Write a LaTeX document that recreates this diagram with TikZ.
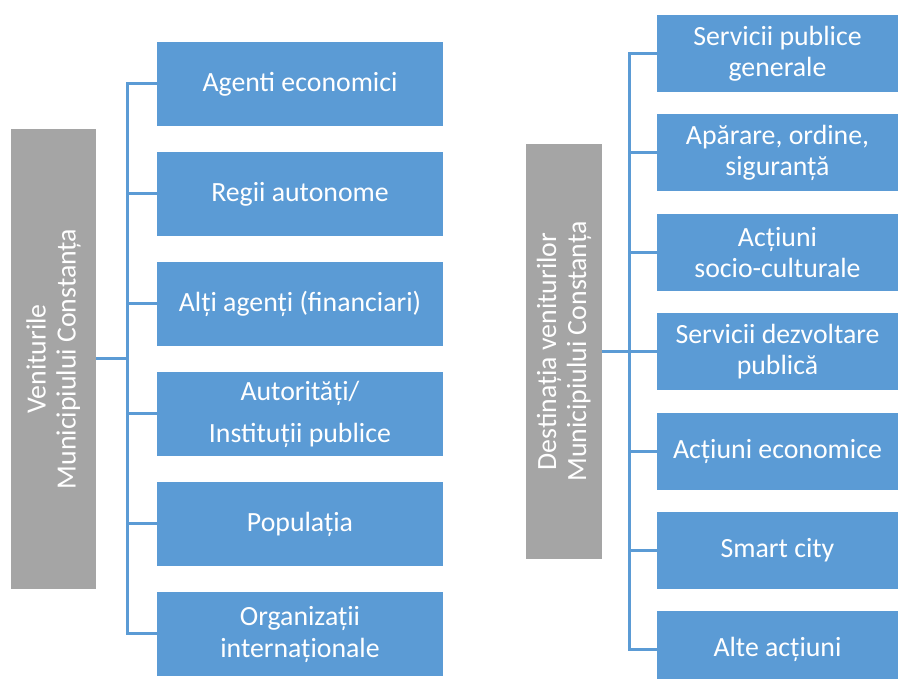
\documentclass[tikz,border=0pt]{standalone}
\usepackage{fontspec}
\setmainfont{Carlito}
\usepackage{xcolor}
\usetikzlibrary{positioning}

\definecolor{boxblue}{HTML}{5B9BD5}
\definecolor{boxgray}{HTML}{A5A5A5}

\begin{document}
\begin{tikzpicture}[
    x=1pt, y=1pt,
    headbox/.style={rectangle, fill=boxgray, text=white, rotate=90, align=center, font=\fontsize{27.8pt}{30pt}\selectfont},
    srcbox/.style={rectangle, fill=boxblue, text=white, minimum width=286pt, minimum height=84pt, align=center, font=\fontsize{27.8pt}{32pt}\selectfont},
    dstbox/.style={rectangle, fill=boxblue, text=white, minimum width=241pt, minimum height=77pt, align=center, font=\fontsize{27.8pt}{31pt}\selectfont},
    link/.style={draw=boxblue, line width=3pt}
]
\useasboundingbox (0,0) rectangle (903,679);

% left side: incomes
\node[headbox, minimum width=460pt, minimum height=85pt] (lhead) at (53.5,320) {Veniturile\\Municipiului Constanța};

\node[srcbox] (l1) at (300,595) {Agenti economici};
\node[srcbox, below=25.6pt of l1] (l2) {Regii autonome};
\node[srcbox, below=25.6pt of l2] (l3) {Alți agenți (financiari)};
\node[srcbox, below=25.6pt of l3] (l4) {Autorități/\\[10pt]Instituții publice};
\node[srcbox, below=25.6pt of l4] (l5) {Populația};
\node[srcbox, below=25.6pt of l5] (l6) {Organizații\\internaționale};

\coordinate (lfork) at (127,320);
\draw[link] (lhead.south) -- (lfork);
\foreach \i in {1,...,6}
    \draw[link] (lfork) |- (l\i.west);

% right side: destinations
\node[headbox, minimum width=415pt, minimum height=76pt] (rhead) at (564,327.5) {Destinația veniturilor\\Municipiului Constanța};

\node[dstbox] (r1) at (777.5,625.5) {Servicii publice\\generale};
\node[dstbox, below=22pt of r1] (r2) {Apărare, ordine,\\siguranță};
\node[dstbox, below=22pt of r2] (r3) {Acțiuni\\socio-culturale};
\node[dstbox, below=22pt of r3] (r4) {Servicii dezvoltare\\publică};
\node[dstbox, below=22pt of r4] (r5) {Acțiuni economice};
\node[dstbox, below=22pt of r5] (r6) {Smart city};
\node[dstbox, below=22pt of r6] (r7) {Alte acțiuni};

\coordinate (rfork) at (629,327.5);
\draw[link] (rhead.south) -- (rfork);
\foreach \i in {1,...,7}
    \draw[link] (rfork) |- (r\i.west);

\end{tikzpicture}
\end{document}
